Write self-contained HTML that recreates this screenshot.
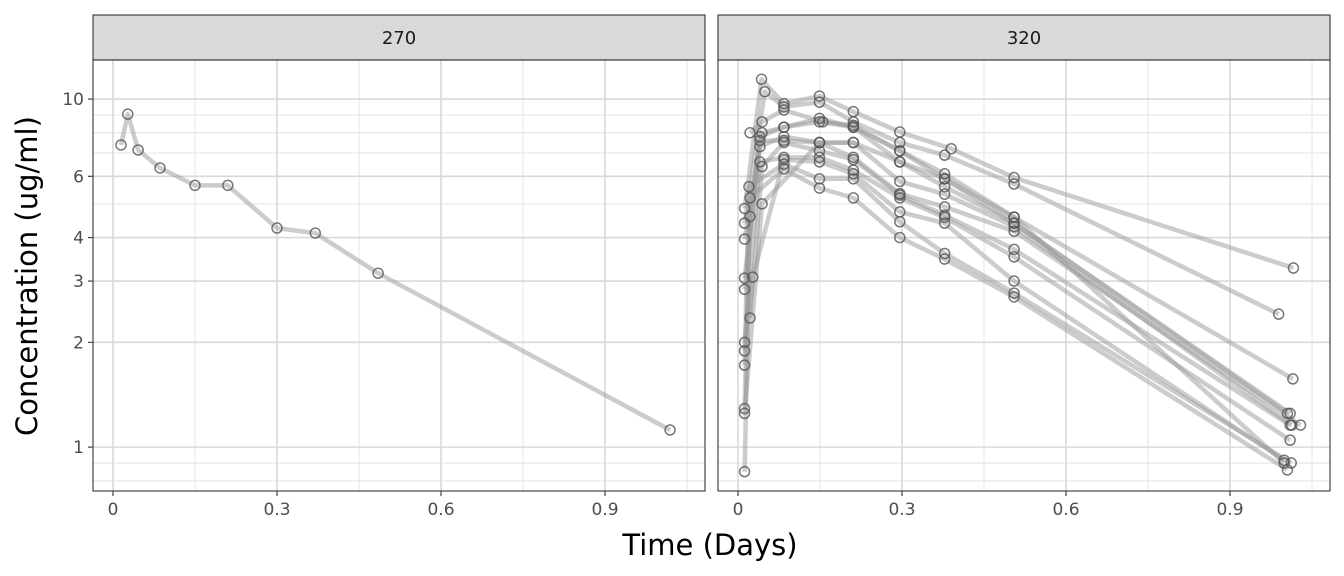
<!DOCTYPE html>
<html><head><meta charset="utf-8"><style>
body{margin:0;background:#fff}
svg{display:block;font-family:"DejaVu Sans","Liberation Sans",sans-serif}
</style></head><body>
<svg id="chart" width="1344" height="576" viewBox="0 0 1344 576" xmlns="http://www.w3.org/2000/svg">
<text x="710" y="555" font-size="29" text-anchor="middle" fill="#000">Time (Days)</text>
<text transform="translate(37,276) rotate(-90)" font-size="29" text-anchor="middle" fill="#000">Concentration (ug/ml)</text>
</svg>
<script>
const panelNames = ["270","320"];
const xTicks = [0,0.3,0.6,0.9];
const xMinor = [0.15,0.45,0.75,1.05];
const yTicks = [1,2,3,4,6,10];
const yTickLabels = ["1","2","3","4","6","10"];
const yMinor = [0.8,0.9,5,7,8,9];
// panel 270: single subject
const times270 = [0.0146,0.027,0.046,0.086,0.15,0.21,0.30,0.37,0.485,1.019];
const conc270 = [7.38,9.05,7.14,6.34,5.65,5.65,4.26,4.12,3.16,1.12];
// panel 320 subjects
const times320 = [
 [0.012,0.043,0.084,0.149,0.211,0.296,0.39,0.505,1.016],
 [0.012,0.049,0.084,0.149,0.211,0.296,0.378,0.505,0.989],
 [0.022,0.044,0.084,0.155,0.211,0.296,0.378,0.505,1.015],
 [0.012,0.044,0.084,0.149,0.211,0.296,0.378,0.505,1.01],
 [0.012,0.04,0.084,0.149,0.211,0.296,0.378,0.505,1.013],
 [0.012,0.04,0.084,0.149,0.211,0.296,0.378,0.505,1.029],
 [0.022,0.044,0.084,0.149,0.211,0.296,0.378,0.505,1.01],
 [0.012,0.04,0.084,0.149,0.211,0.296,0.378,0.505,1.01],
 [0.012,0.027,0.084,0.149,0.211,0.296,0.378,0.505,0.999],
 [0.012,0.02,0.084,0.149,0.211,0.296,0.378,0.505,1.012],
 [0.012,0.022,0.084,0.149,0.211,0.296,0.378,0.505,1.005],
 [0.012,0.044,0.149,0.211,0.296,0.378,0.505,1.005],
 [0.012,0.022,0.04,0.084,0.149,0.211,0.296,0.378,0.505,0.999]
];
const conc320 = [
 [4.85,11.4,9.7,10.2,9.2,8.04,7.2,5.95,3.27],
 [4.4,10.5,9.5,9.8,8.6,7.5,6.9,5.7,2.41],
 [8.0,8.6,9.3,8.6,8.4,7.1,6.1,4.58,1.57],
 [3.96,8.0,8.3,8.8,8.3,6.6,5.9,4.4,1.25],
 [3.06,7.3,7.8,7.5,7.5,5.8,5.33,4.3,1.157],
 [2.84,7.6,7.6,7.5,6.8,5.35,4.9,4.17,1.157],
 [2.35,6.4,7.5,7.1,6.7,5.3,4.64,3.7,1.157],
 [2.0,6.6,6.8,6.8,6.25,5.2,4.57,3.52,1.047],
 [1.89,3.08,6.7,6.6,6.1,4.74,4.4,3.0,0.917],
 [1.72,5.6,6.5,5.9,5.9,4.44,3.6,2.77,0.9],
 [1.29,5.2,6.3,5.55,5.2,4.0,3.47,2.7,0.86],
 [1.25,5.0,7.5,7.5,6.6,5.6,4.4,1.25],
 [0.85,4.6,7.8,8.3,8.6,8.3,7.1,5.9,4.58,0.9]
];
const NS="http://www.w3.org/2000/svg";
const svg=document.getElementById("chart");
const panels=[{x0:93,x1:705},{x0:718,x1:1330}];
const yTop=60,yBot=491,xmin=-0.0366,xmax=1.0829;
const ylo=Math.log10(0.748),yhi=Math.log10(12.95);
function sx(p,t){return p.x0+(t-xmin)/(xmax-xmin)*(p.x1-p.x0);}
function sy(c){return yBot-(Math.log10(c)-ylo)/(yhi-ylo)*(yBot-yTop);}
function mk(tag,attrs,parent){const e=document.createElementNS(NS,tag);for(const k in attrs)e.setAttribute(k,attrs[k]);(parent||svg).appendChild(e);return e;}
panels.forEach((p,pi)=>{
  const g=mk("g",{});
  
  
  mk("rect",{x:p.x0,y:yTop,width:p.x1-p.x0,height:yBot-yTop,fill:"#fff"},g);
  yMinor.forEach(v=>{const l=mk("line",{x1:p.x0,x2:p.x1,y1:sy(v),y2:sy(v),stroke:"#dedede","stroke-width":0.8},g);
    
    });
  xMinor.forEach(v=>{const l=mk("line",{x1:sx(p,v),x2:sx(p,v),y1:yTop,y2:yBot,stroke:"#dedede","stroke-width":0.8},g);
    
    });
  yTicks.forEach(v=>{const l=mk("line",{x1:p.x0,x2:p.x1,y1:sy(v),y2:sy(v),stroke:"#d9d9d9","stroke-width":1.6},g);
    
    });
  xTicks.forEach((v,i)=>{const x=sx(p,v);
    const l=mk("line",{x1:x,x2:x,y1:yTop,y2:yBot,stroke:"#d9d9d9","stroke-width":1.6},g);
    
    
    mk("line",{x1:x,x2:x,y1:yBot,y2:yBot+5,stroke:"#333","stroke-width":1.1},g);
    const t=mk("text",{x:x,y:yBot+24,"font-size":17,"text-anchor":"middle",fill:"#4d4d4d"},g);t.textContent=String(v);
    
    });
  const strip=mk("rect",{x:p.x0,y:15,width:p.x1-p.x0,height:45,fill:"#d9d9d9",stroke:"#333","stroke-width":1.1},g);
  
  
  const st=mk("text",{x:(p.x0+p.x1)/2,y:44,"font-size":18,"text-anchor":"middle",fill:"#1a1a1a"},g);st.textContent=panelNames[pi];
  
  
  const series = pi===0?[[times270,conc270]]:times320.map((t,i)=>[t,conc320[i]]);
  series.forEach(([ts,cs])=>{
    const pts=ts.map((t,i)=>sx(p,t).toFixed(1)+","+sy(cs[i]).toFixed(1)).join(" ");
    const pl=mk("polyline",{points:pts,fill:"none",stroke:"#999","stroke-width":4.5,"stroke-opacity":0.5,"stroke-linejoin":"round"},g);
    
    
  });
  series.forEach(([ts,cs])=>{
    ts.forEach((t,i)=>{const c=mk("circle",{cx:sx(p,t),cy:sy(cs[i]),r:5,fill:"none",stroke:"#555","stroke-width":1.5,"stroke-opacity":0.8},g);
      
      });
  });
  mk("rect",{x:p.x0,y:yTop,width:p.x1-p.x0,height:yBot-yTop,fill:"none",stroke:"#333","stroke-width":1.1},g);
});
yTicks.forEach((v,i)=>{
  const y=sy(v);
  mk("line",{x1:88,x2:93,y1:y,y2:y,stroke:"#333","stroke-width":1.1});
  const t=mk("text",{x:84,y:y+6,"font-size":17,"text-anchor":"end",fill:"#4d4d4d"});t.textContent=yTickLabels[i];
  
  
});
</script>
</body></html>
